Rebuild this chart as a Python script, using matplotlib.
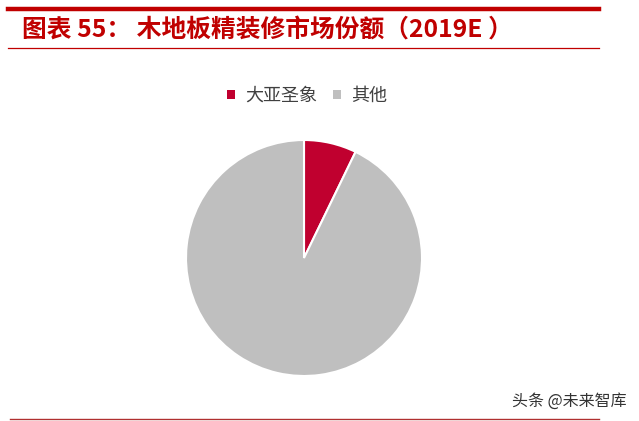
import matplotlib
matplotlib.use("Agg")
import matplotlib.pyplot as plt
from matplotlib.lines import Line2D
from matplotlib.patches import Patch

plt.rcParams['font.family'] = ['Noto Sans CJK SC', 'DejaVu Sans']

labels = ['大亚圣象', '其他']
shares = [7.2, 92.8]
colors = ['#C0002F', '#BFBFBF']
title = '图表 55： 木地板精装修市场份额（2019E ）'
watermark = '头条 @未来智库'

W, H = 639, 421
fig = plt.figure(figsize=(W / 100, H / 100), dpi=100)

def fx(x):
    return x / W

def fy(y):
    return 1 - y / H

# decorative lines
fig.add_artist(Line2D([fx(8), fx(599)], [fy(8.5), fy(8.5)], color='#C00000', lw=3.2))
fig.add_artist(Line2D([fx(8), fx(599)], [fy(48), fy(48)], color='#C00000', lw=0.9))
fig.add_artist(Line2D([fx(10), fx(599)], [fy(419), fy(419)], color='#B03030', lw=1.0))

fig.text(fx(22), fy(31), title, color='#C00000', fontsize=17.8, fontweight='bold',
         ha='left', va='center')

# pie
cx, cy, r = 304, 258, 118
ax = fig.add_axes([fx(cx - r), fy(cy + r), 2 * r / W, 2 * r / H])
ax.pie(shares, colors=colors, startangle=90, counterclock=False,
       wedgeprops=dict(edgecolor='white', linewidth=1.5))
ax.set_aspect('equal')
ax.set_xlim(-1, 1)
ax.set_ylim(-1, 1)
ax.axis('off')

handles = [Patch(facecolor=c, edgecolor='none') for c in colors]
fig.legend(handles, labels, loc='center', bbox_to_anchor=(fx(307), fy(96)),
           ncol=2, frameon=False, fontsize=13, handlelength=0.45, handleheight=0.45,
           handletextpad=0.55, columnspacing=0.9, labelcolor='#404040')

fig.text(fx(512), fy(401), watermark, color='#333333', fontsize=11.5, ha='left', va='center')

fig.savefig('out.png', dpi=100)
